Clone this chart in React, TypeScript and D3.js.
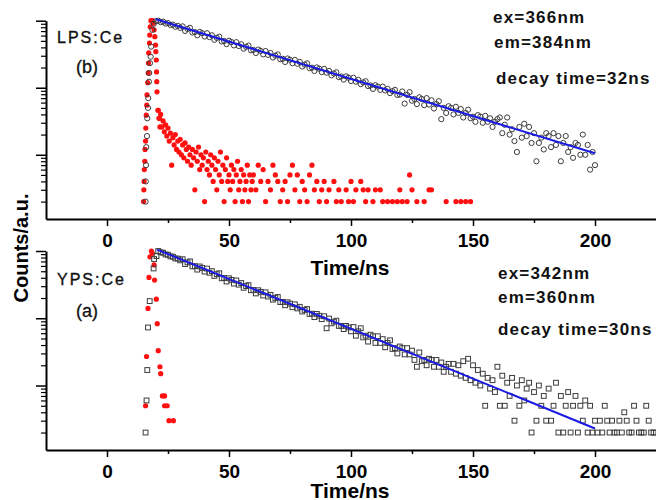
import React, { useEffect, useRef } from 'react';
import * as d3 from 'd3';

const WIDTH = 656;
const HEIGHT = 500;
const FONT = 'Liberation Sans, Arial, sans-serif';

// axis ticks
const timeTicks = [0, 50, 100, 150, 200];
const timeMinorTicks = [25, 75, 125, 175];
const countMajorTicks = [10, 100, 1000];
const countMinorTicks = [2, 3, 4, 5, 6, 7, 8, 9, 20, 30, 40, 50, 60, 70, 80, 90, 200, 300, 400, 500, 600, 700, 800, 900];

// (b) LPS:Ce — sample (open circles), rising edge [t, counts]
const lpsRise: [number, number][] = [
  [15.8, 2], [15.9, 4], [16.0, 7], [16.1, 13], [16.4, 19], [16.5, 35], [16.8, 50], [16.9, 70],
  [17.2, 123], [17.3, 166], [17.6, 233], [17.9, 290], [18.1, 410], [18.6, 730], [19.2, 900],
];
// decay, 1 ns steps from 20 ns
const lpsDecayStart = 20;
const lpsDecay = [
  985, 1000, 951, 968, 905, 921, 862, 874, 812, 838,
  781, 823, 703, 752, 784, 666, 676, 606, 681, 652,
  580, 650, 569, 606, 519, 555, 578, 491, 499, 447,
  503, 481, 428, 478, 419, 446, 382, 408, 425, 362,
  367, 329, 371, 354, 315, 353, 309, 330, 282, 301,
  314, 266, 270, 242, 273, 261, 232, 260, 228, 243,
  207, 221, 231, 196, 199, 178, 201, 192, 171, 191,
  168, 178, 153, 163, 170, 144, 147, 132, 148, 141,
  126, 141, 123, 131, 113, 120, 125, 106, 108, 96,
  109, 104, 93, 104, 91, 96, 83, 89, 93, 78,
  79, 88, 58, 78, 86, 64, 68, 57, 72, 68,
  55, 70, 56, 65, 49, 57, 63, 34, 50, 42,
  53, 50, 40, 52, 42, 48, 36, 42, 47, 35,
  37, 31, 39, 37, 30, 38, 31, 35, 26, 31,
  34, 36, 21, 28, 36, 20, 24, 16, 11, 26,
  18, 29, 19, 26, 15, 21, 8, 15, 18, 12,
  21, 19, 13, 21, 14, 19, 8, 15, 19, 11,
  13, 9, 15, 14, 10, 20, 10, 14, 6, 11,
  7,
];
// excitation pulse (red dots) [t, counts]
const lpsPulse: [number, number][] = [
  [15.0, 2], [15.1, 3], [15.2, 4], [15.3, 6], [15.5, 8], [15.6, 12], [15.8, 16], [15.9, 25],
  [16.1, 39], [16.3, 55], [16.4, 78], [16.7, 119], [16.9, 166], [17.0, 233], [17.1, 330],
  [17.4, 465], [17.5, 610], [17.7, 810], [18.0, 1000], [18.6, 1000], [18.9, 920], [19.3, 730],
  [19.6, 577], [19.9, 433], [20.0, 345], [20.2, 259], [20.3, 172], [20.4, 123], [20.5, 87],
  [20.9, 46], [21.3, 35], [21.7, 26],
];
// pulse tail, 0.5 ns steps from 21 ns
const lpsTailAStart = 21;
const lpsTailA = [
  46, 35, 40, 26, 32, 22, 28, 19, 25, 16,
  21, 7, 18, 14, 20, 12, 16, 11, 17, 10,
  14, 9, 15, 12, 8, 13, 10, 7, 12, 9,
  3, 11, 8, 13, 6, 10, 7, 9, 2, 11,
  6, 8, 5, 10, 7, 4, 9, 6, 3, 8,
  5, 11, 4, 7, 2, 6, 9, 4, 5, 3,
  7, 4, 6, 2, 5, 8, 3, 4, 6, 2,
  5, 3, 4, 7, 2, 5, 3, 4,
];
// pulse tail, 1 ns steps from 60 ns
const lpsTailBStart = 60;
const lpsTailB = [
  5, 3, 7, 4, 6, 2, 4, 3, 7, 5,
  4, 2, 3, 4, 2, 5, 7, 3, 5, 2,
  4, 3, 2, 5, 7, 3, 4, 2, 3, 4,
  2, 3, 1, 4, 2, 3, 2, 1, 3, 2,
  4, 2, 3, 1, 4, 3, 2, 3, 1, 2,
  3, 1, 3, 2, 1, 2, 1, 2, 1, 2,
  3, 2, 1, 2, 5, 3, 1, 2, 1, 1,
  2, 1, 3, 3, 1, 1, 1, 1, 1, 2,
  1, 1, 1, 2, 1, 2, 1, 2, 1, 2, 1,
];
const lpsFit: [number, number][] = [[20, 1050], [200, 10.5]];

// (a) YPS:Ce — sample (open squares)
const ypsRise: [number, number][] = [
  [15.8, 2], [16.2, 6], [16.5, 17], [16.8, 73], [17.5, 180], [19.1, 550], [19.3, 760], [20.3, 840],
];
const ypsDecayStart = 21;
const ypsDecay = [
  1000, 958, 941, 889, 880, 832, 823, 776, 770, 726,
  755, 640, 678, 701, 591, 595, 529, 589, 559, 494,
  548, 475, 502, 426, 452, 467, 393, 396, 352, 393,
  372, 328, 365, 316, 334, 284, 301, 311, 261, 263,
  234, 261, 247, 218, 243, 210, 223, 189, 200, 207,
  174, 175, 156, 173, 165, 146, 161, 140, 148, 126,
  133, 137, 116, 117, 104, 116, 109, 97, 107, 71,
  99, 84, 89, 92, 77, 77, 69, 77, 73, 64,
  74, 55, 64, 71, 52, 55, 45, 57, 54, 43,
  54, 43, 49, 37, 43, 47, 35, 36, 30, 38,
  36, 29, 36, 29, 33, 24, 19, 31, 23, 24,
  20, 25, 24, 19, 24, 19, 22, 16, 19, 21,
  16, 21, 15, 20, 14, 23, 13, 25, 12, 20,
  11, 17, 10, 15, 5, 13, 9, 12, 8, 19,
  5, 14, 5, 11, 7, 13, 3, 10, 5, 12,
  6, 9, 11, 2, 8, 3, 10, 5, 7, 3,
  9, 3, 5, 11, 2, 7, 2, 5, 8, 2,
  5, 7, 2, 5, 3, 6, 2, 5, 2, 3,
  2, 3, 2, 5, 3, 2, 3, 2, 2, 3,
  2, 4, 3, 2, 2, 5, 3, 2, 2, 2,
  5, 3, 2, 2, 2,
];
const ypsPulse: [number, number][] = [
  [15.0, 1], [15.8, 5], [16.2, 27], [16.8, 140], [17.2, 405], [17.6, 820], [18.2, 1000],
  [18.6, 920], [19.3, 620], [19.5, 370], [20.2, 192], [20.6, 83], [21.0, 33], [21.7, 19],
  [22.0, 15], [22.7, 7], [23.6, 7], [23.6, 5], [24.7, 5], [25.4, 3], [27.2, 3],
  [24.5, 1], [26, 1], [27, 1], [28, 1], [42, 1], [55, 1], [61, 1], [80, 1], [108, 1],
];
const ypsFit: [number, number][] = [[20.5, 1050], [200, 2.3]];

const series = (start: number, step: number, vals: number[]): [number, number][] =>
  vals.map((c, i) => [start + i * step, c]);

const panels = [
  {
    id: 'lps', top: 20.7, bottom: 219, marker: 'circle',
    sample: [...lpsRise, ...series(lpsDecayStart, 1, lpsDecay)],
    pulse: [...lpsPulse, ...series(lpsTailAStart, 0.5, lpsTailA), ...series(lpsTailBStart, 1, lpsTailB)],
    fit: lpsFit,
    name: 'LPS:Ce', tag: '(b)', nameY: 43, tagY: 73,
    notes: ['ex=366nm', 'em=384nm', 'decay time=32ns'], notesX: [493, 494, 496], notesY: [23, 48, 84],
    xLabelY: 275,
  },
  {
    id: 'yps', top: 251, bottom: 450, marker: 'square',
    sample: [...ypsRise, ...series(ypsDecayStart, 1, ypsDecay)],
    pulse: ypsPulse,
    fit: ypsFit,
    name: 'YPS:Ce', tag: '(a)', nameY: 285, tagY: 317,
    notes: ['ex=342nm', 'em=360nm', 'decay time=30ns'], notesX: [498, 498, 498], notesY: [279, 303, 335],
    xLabelY: 498,
  },
];

export default function App() {
  const svgRef = useRef<SVGSVGElement>(null);

  useEffect(() => {
    if (!svgRef.current) return;
    const svg = d3.select(svgRef.current);
    svg.selectAll('*').remove();

    const x = d3.scaleLinear().domain([-25, 225]).range([46, 656]);
    const defs = svg.append('defs');

    panels.forEach((p) => {
      const y = d3.scaleLog().domain([1.1, 1000]).range([p.bottom, p.top]);
      const g = svg.append('g').attr('class', `panel-${p.id}`);

      defs.append('clipPath').attr('id', `clip-${p.id}`)
        .append('rect')
        .attr('x', 46).attr('y', p.top - 12)
        .attr('width', 612).attr('height', p.bottom - p.top + 12.5);

      const plot = g.append('g').attr('clip-path', `url(#clip-${p.id})`);

      // excitation pulse
      plot.append('g').selectAll('circle')
        .data(p.pulse).enter().append('circle')
        .attr('cx', (d) => x(d[0]))
        .attr('cy', (d) => y(d[1]))
        .attr('r', 2.6)
        .attr('fill', '#ff1010');

      // sample decay
      const sg = plot.append('g')
        .attr('fill', 'none')
        .attr('stroke', '#3c3c3c')
        .attr('stroke-width', 1);
      if (p.marker === 'circle') {
        sg.selectAll('circle').data(p.sample).enter().append('circle')
          .attr('cx', (d) => x(d[0]))
          .attr('cy', (d) => y(d[1]))
          .attr('r', 2.6);
      } else {
        sg.selectAll('rect').data(p.sample).enter().append('rect')
          .attr('x', (d) => x(d[0]) - 2.4)
          .attr('y', (d) => y(d[1]) - 2.4)
          .attr('width', 4.8)
          .attr('height', 4.8);
      }

      // single exponential fit
      const line = d3.line<[number, number]>().x((d) => x(d[0])).y((d) => y(d[1]));
      plot.append('path')
        .datum(p.fit)
        .attr('d', line)
        .attr('fill', 'none')
        .attr('stroke', '#1a1ae6')
        .attr('stroke-width', 2);

      // x axis
      const xa = g.append('g')
        .attr('transform', `translate(0,${p.bottom})`)
        .call(d3.axisBottom(x).tickValues(timeTicks).tickSize(7).tickSizeOuter(0).tickPadding(8).tickFormat(d3.format('d')));
      xa.attr('font-family', FONT).attr('font-size', 19).attr('font-weight', 'bold');
      xa.select('.domain').attr('stroke-width', 2);
      xa.selectAll('.tick line').attr('stroke-width', 1.5);
      xa.selectAll('.tick text').attr('fill', '#000');

      const xm = g.append('g')
        .attr('transform', `translate(0,${p.bottom})`)
        .call(d3.axisBottom(x).tickValues(timeMinorTicks).tickSize(4).tickSizeOuter(0).tickFormat(() => ''));
      xm.select('.domain').remove();
      xm.selectAll('.tick line').attr('stroke-width', 1.5);

      // y axis (log, no labels)
      const ya = g.append('g')
        .attr('transform', 'translate(46,0)')
        .call(d3.axisLeft(y).tickValues(countMajorTicks).tickSize(10).tickSizeOuter(0).tickFormat(() => ''));
      ya.select('.domain').attr('stroke-width', 2);
      ya.selectAll('.tick line').attr('stroke-width', 1.5);

      const ym = g.append('g')
        .attr('transform', 'translate(46,0)')
        .call(d3.axisLeft(y).tickValues(countMinorTicks).tickSize(5).tickSizeOuter(0).tickFormat(() => ''));
      ym.select('.domain').remove();
      ym.selectAll('.tick line').attr('stroke-width', 1.2);

      // labels
      g.append('text')
        .attr('x', 350).attr('y', p.xLabelY)
        .attr('text-anchor', 'middle')
        .attr('font-family', FONT).attr('font-size', 21).attr('font-weight', 'bold')
        .text('Time/ns');

      g.append('text')
        .attr('x', 57).attr('y', p.nameY)
        .attr('font-family', FONT).attr('font-size', 16)
        .attr('letter-spacing', 2).attr('fill', '#111')
        .attr('stroke', '#111').attr('stroke-width', 0.35)
        .text(p.name);

      g.append('text')
        .attr('x', 76).attr('y', p.tagY)
        .attr('font-family', FONT).attr('font-size', 18).attr('fill', '#111')
        .attr('stroke', '#111').attr('stroke-width', 0.3)
        .text(p.tag);

      p.notes.forEach((s, i) => {
        g.append('text')
          .attr('x', p.notesX[i]).attr('y', p.notesY[i])
          .attr('font-family', FONT).attr('font-size', 17).attr('font-weight', 'bold')
          .attr('letter-spacing', 1.2).attr('fill', '#111')
          .text(s);
      });
    });

    svg.append('text')
      .attr('transform', 'translate(28,248) rotate(-90)')
      .attr('text-anchor', 'middle')
      .attr('font-family', FONT).attr('font-size', 20).attr('font-weight', 'bold')
      .text('Counts/a.u.');
  }, []);

  return (
    <svg
      ref={svgRef}
      width={WIDTH}
      height={HEIGHT}
      style={{ position: 'absolute', left: 0, top: 0, background: '#fff' }}
    />
  );
}
